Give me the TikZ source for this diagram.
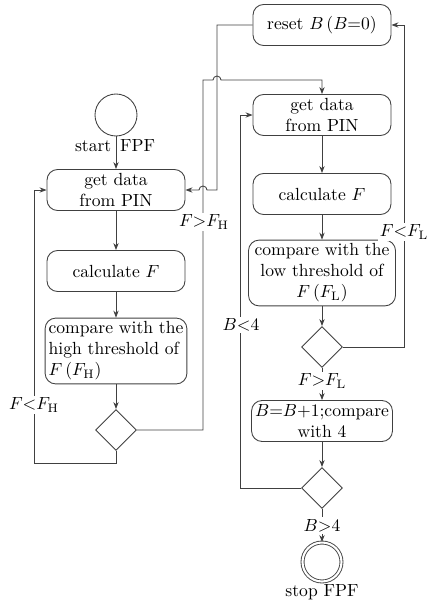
\documentclass[tikz,border=0pt]{standalone}
\usepackage{amsmath}
\usetikzlibrary{shapes.geometric,arrows.meta,positioning}
\tikzset{>={Stealth[length=4pt,width=3pt]}}
\tikzstyle{block} = [draw=black!75, line width=0.5pt, rounded corners=6pt,
minimum width=2.76cm, minimum height=0.82cm, align=center, inner sep=2pt]
\tikzstyle{decision} = [draw=black!75, line width=0.5pt, diamond,
minimum width=0.82cm, minimum height=0.82cm, inner sep=0pt]
\tikzstyle{line} = [draw=black!75, line width=0.5pt, ->]
\tikzstyle{cond} = [fill=white, inner sep=1pt]

\begin{document}
\begin{tikzpicture}[x=0.02cm, y=-0.02cm]
	\useasboundingbox (0,0) rectangle (426,605);
	%% left column
	\node [circle, draw=black!75, line width=0.5pt, minimum size=0.84cm] (start) at (116,115) {};
	\node (startlbl) at (115,146) {start\hspace{5pt}FPF};
	\node [block] (getL) at (116,190) {get data\\from PIN};
	\node [block] (calcL) at (116,271) {calculate $F$};
	\node [block, align=left, minimum height=1.24cm] (cmpH) at (116,351) {compare with the\\high threshold of\\$F\,(F_{\mathrm{H}})$};
	\node [decision] (dH) at (116,430) {};
	%% right column
	\node [block] (reset) at (322,25) {reset $B$\,($B$=0)};
	\node [block] (getR) at (322,115) {get data\\from PIN};
	\node [block] (calcR) at (322,194) {calculate $F$};
	\node [block, minimum width=2.94cm, minimum height=1.26cm] (cmpL) at (322,273) {compare with the\\low threshold of\\$F\,(F_{\mathrm{L}})$};
	\node [decision] (dL) at (322,347) {};
	\node [block] (count) at (322,421) {$B$=$B$+1;compare\\with 4};
	\node [decision] (dB) at (322,488) {};
	\node [circle, draw=black!75, line width=0.5pt, double, double distance=1.2pt, minimum size=0.78cm] (stop) at (322,562) {};
	\node (stoplbl) at (322,592) {stop FPF};
	%% turning points
	\coordinate (loopH) at (34,463);
	\coordinate (upH) at (203,80);
	\coordinate (rsdown) at (217,190);
	\coordinate (upL) at (404,347);
	\coordinate (loopB) at (240,488);
	%% straight flow
	\path [line] (start) -- (getL);
	\path [line] (getL) -- (calcL);
	\path [line] (calcL) -- (cmpH);
	\path [line] (cmpH) -- (dH);
	\path [line] (getR) -- (calcR);
	\path [line] (calcR) -- (cmpL);
	\path [line] (cmpL) -- (dL);
	\path [line] (dL) -- node [cond, pos=0.4] {$F{>}F_{\mathrm{L}}$} (count);
	\path [line] (count) -- (dB);
	\path [line] (dB) -- node [cond] {$B{>}4$} (stop);
	%% loops
	\path [line] (dH.south) |- (loopH) |- (getL.west);
	\path [line] (dH.east) -| (upH) -- ++(10,0) arc [start angle=180, end angle=0, radius=0.08cm] -| (getR.north);
	\path [line] (reset.west) -| (rsdown) -- ++(-10,0) arc [start angle=0, end angle=180, radius=0.08cm] -- (getL.east);
	\path [line] (dL.east) -- (upL) |- (reset.east);
	\path [line] (dB.west) -- (loopB) |- (getR.west);
	%% loop labels
	\node [cond] (lblFH) at (34,405) {$F{<}F_{\mathrm{H}}$};
	\node [cond] (lblGH) at (204,222) {$F{>}F_{\mathrm{H}}$};
	\node [cond] (lblFL) at (404,232) {$F{<}F_{\mathrm{L}}$};
	\node [cond] (lblB) at (241,325) {$B{<}4$};
\end{tikzpicture}
\end{document}
